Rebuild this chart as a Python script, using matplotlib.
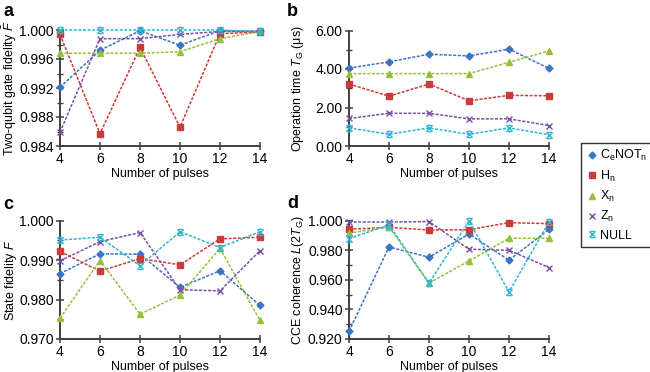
import matplotlib
matplotlib.use("Agg")
import matplotlib.pyplot as plt
from matplotlib.path import Path
from matplotlib.ticker import MultipleLocator, FormatStrFormatter
from matplotlib.lines import Line2D

pulses = [4, 6, 8, 10, 12, 14]
series_names = ["$\\mathregular{C_eNOT_n}$", "$\\mathregular{H_n}$", "$\\mathregular{X_n}$",
                "$\\mathregular{Z_n}$", "NULL"]

# a: two-qubit gate fidelity
gate_fid_cnot = [0.9921, 0.9972, 0.9999, 0.9979, 0.9999, 0.9998]
gate_fid_h = [0.9994, 0.9857, 0.9976, 0.9866, 0.9995, 0.9997]
gate_fid_x = [0.9968, 0.9968, 0.9968, 0.9970, 0.9988, 0.9998]
gate_fid_z = [0.9859, 0.9988, 0.9988, 0.9994, 0.9998, 0.9998]
gate_fid_null = [1.0000, 1.0000, 1.0000, 1.0000, 1.0000, 0.9998]

# b: operation time (us)
op_time_cnot = [4.05, 4.37, 4.77, 4.68, 5.03, 4.03]
op_time_h = [3.22, 2.59, 3.22, 2.35, 2.63, 2.61]
op_time_x = [3.76, 3.76, 3.76, 3.76, 4.35, 4.94]
op_time_z = [1.43, 1.70, 1.70, 1.41, 1.41, 1.06]
op_time_null = [0.94, 0.61, 0.94, 0.61, 0.94, 0.59]

# c: state fidelity
state_fid_cnot = [0.9866, 0.9916, 0.9915, 0.9831, 0.9873, 0.9785]
state_fid_h = [0.9922, 0.9872, 0.9904, 0.9888, 0.9954, 0.9958]
state_fid_x = [0.9753, 0.9899, 0.9763, 0.9811, 0.9930, 0.9747]
state_fid_z = [0.9898, 0.9947, 0.9970, 0.9825, 0.9822, 0.9924]
state_fid_null = [0.9951, 0.9958, 0.9886, 0.9972, 0.9932, 0.9972]

# d: CCE coherence
cce_cnot = [0.9252, 0.9822, 0.9753, 0.9910, 0.9733, 0.9942]
cce_h = [0.9942, 0.9955, 0.9937, 0.9939, 0.9987, 0.9980]
cce_x = [0.9915, 0.9960, 0.9578, 0.9728, 0.9881, 0.9881]
cce_z = [0.9991, 0.9991, 0.9994, 0.9807, 0.9800, 0.9683]
cce_null = [0.9879, 0.9971, 0.9578, 0.9998, 0.9519, 0.9991]

colors = ["#3a74c4", "#cc3a3a", "#97c03c", "#7b4ea6", "#2fb6d2"]

star_path = Path(
    [(-1, -1), (1, 1), (-1, 1), (1, -1), (-0.6, 1), (0.6, 1), (-0.6, -1), (0.6, -1)],
    [Path.MOVETO, Path.LINETO, Path.MOVETO, Path.LINETO,
     Path.MOVETO, Path.LINETO, Path.MOVETO, Path.LINETO])
markers = ["D", "s", "^", "x", star_path]
msizes = [3.5, 4.5, 4.5, 4.5, 4.5]

plt.rcParams['font.family'] = ['Liberation Sans', 'DejaVu Sans']
plt.rcParams['mathtext.fontset'] = 'custom'
plt.rcParams['mathtext.rm'] = 'Liberation Sans'
plt.rcParams['mathtext.it'] = 'Liberation Sans:italic'

fig = plt.figure(figsize=(6.5, 3.72), dpi=100)
W, H = 650.0, 372.0

def ax_at(x0, y0, x1, y1):
    return fig.add_axes([x0 / W, 1 - y1 / H, (x1 - x0) / W, (y1 - y0) / H])

axa = ax_at(60, 30, 260, 146)
axb = ax_at(349, 30.5, 549, 146)
axc = ax_at(60, 220.7, 260, 339)
axd = ax_at(349, 220.7, 549, 339)

panels = [
    (axa, [gate_fid_cnot, gate_fid_h, gate_fid_x, gate_fid_z, gate_fid_null],
     (0.984, 1.000), 0.004, 0.002, "%.3f", "Two-qubit gate fidelity $\\bar{F}$", -0.205),
    (axb, [op_time_cnot, op_time_h, op_time_x, op_time_z, op_time_null],
     (0.0, 6.0), 2.0, 1.0, "%.2f", "Operation time $T_{\\mathrm{G}}$ (\u03bcs)", -0.215),
    (axc, [state_fid_cnot, state_fid_h, state_fid_x, state_fid_z, state_fid_null],
     (0.970, 1.000), 0.010, 0.005, "%.3f", "State fidelity $F$", -0.205),
    (axd, [cce_cnot, cce_h, cce_x, cce_z, cce_null],
     (0.920, 1.000), 0.020, 0.010, "%.3f", "CCE coherence $L(2T_{\\mathrm{G}})$", -0.215),
]

spine_c = "#404040"
for ax, data, ylim, maj, mnr, fmt, ylabel, lx in panels:
    for vals, c, m, ms in zip(data, colors, markers, msizes):
        ax.plot(pulses, vals, color=c, lw=1.1, ls=(0, (2, 1)), marker=m, ms=ms,
                mfc=c, mec=c, mew=1.0, clip_on=False, zorder=3)
    ax.set_xlim(4, 14)
    ax.set_ylim(*ylim)
    ax.set_xticks(pulses)
    ax.yaxis.set_major_locator(MultipleLocator(maj))
    ax.yaxis.set_minor_locator(MultipleLocator(mnr))
    ax.yaxis.set_major_formatter(FormatStrFormatter(fmt))
    for s in ["top", "right"]:
        ax.spines[s].set_visible(False)
    for s in ["left", "bottom"]:
        ax.spines[s].set_color(spine_c)
        ax.spines[s].set_linewidth(1.4)
    ax.tick_params(axis="both", which="major", direction="inout", length=6, width=1.1,
                   color=spine_c, labelsize=10, pad=1.5)
    ax.tick_params(axis="y", which="minor", direction="inout", length=4, width=1.0,
                   color=spine_c)
    ax.set_xlabel("Number of pulses", fontsize=9, labelpad=1)
    ax.set_ylabel(ylabel, fontsize=9)
    ax.yaxis.set_label_coords(lx, 0.5)

fig.text(3 / W, 1 - 11 / H, "a", fontsize=13, fontweight="bold", va="center")
fig.text(287 / W, 1 - 12 / H, "b", fontsize=13, fontweight="bold", va="center")
fig.text(3 / W, 1 - 205 / H, "c", fontsize=13, fontweight="bold", va="center")
fig.text(287 / W, 1 - 204 / H, "d", fontsize=13, fontweight="bold", va="center")

handles = [Line2D([], [], ls="none", marker=m, ms=ms, color=c, mfc=c, mec=c, mew=1.0)
           for c, m, ms in zip(colors, markers, msizes)]
leg = fig.legend(handles, series_names, loc="upper left",
                 bbox_to_anchor=(581 / W, 1 - 142.7 / H), fontsize=9,
                 frameon=True, fancybox=False, edgecolor="black",
                 handlelength=0.8, handletextpad=0.3, labelspacing=0.42,
                 borderpad=0.45, borderaxespad=0)
leg.get_frame().set_linewidth(1.0)

fig.savefig("out.png", dpi=100)
